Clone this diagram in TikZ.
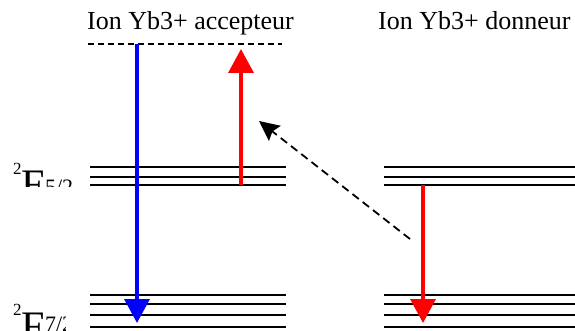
\documentclass[tikz,border=0pt]{standalone}
\usepackage{fontspec}
\setmainfont{Liberation Serif}
\usetikzlibrary{arrows.meta}
\begin{document}
\begin{tikzpicture}[x=1pt,y=-1pt,>={Triangle[width=25pt,length=24pt]},
            niveau/.style={line width=2pt,black},
            trans/.style={line width=3.5pt,->},
            titre/.style={anchor=base west,inner sep=0pt,font=\fontsize{26}{28}\selectfont}]
            \useasboundingbox (0,0) rectangle (575,331);
            \node[titre] (acc) at (87,30) {Ion Yb3+ accepteur};
            \node[titre] (don) at (378,30) {Ion Yb3+ donneur};
            % niveaux
            \foreach \y in {167,177,185} {
                \draw[niveau] (90,\y)--(286,\y);
                \draw[niveau] (384,\y)--(580,\y);
            }
            \foreach \y in {295,304,315,327} {
                \draw[niveau] (90,\y)--(286,\y);
                \draw[niveau] (384,\y)--(580,\y);
            }
            \draw[line width=1.3pt,dash pattern=on 6pt off 4pt] (88,44)--(282,44);
            \begin{scope}
                \clip (0,150) rectangle (82,187);
                \node[anchor=base west,inner sep=0pt] (f52) at (13,198)
                {{\fontsize{17}{17}\selectfont\raisebox{24pt}{2}}{\fontsize{42}{42}\selectfont F}{\fontsize{22}{22}\selectfont\raisebox{4pt}{5/2}}};
            \end{scope}
            \begin{scope}
                \clip (0,290) rectangle (65,331);
                \node[anchor=base west,inner sep=0pt] (f72) at (13,340)
                {{\fontsize{17}{17}\selectfont\raisebox{25pt}{2}}{\fontsize{42}{42}\selectfont F}{\fontsize{22}{22}\selectfont\raisebox{9pt}{7/2}}};
            \end{scope}
            % transitions
            \coordinate (bleuA) at (137,44);
            \coordinate (bleuB) at (137,323);
            \coordinate (abs1) at (241,185);
            \coordinate (abs2) at (241,49);
            \coordinate (em1) at (423,185);
            \coordinate (em2) at (423,323);
            \coordinate (src) at (410,239);
            \coordinate (dst) at (259,121);
            \draw[trans,blue] (bleuA)--(bleuB);
            \draw[trans,red] (abs1)--(abs2);
            \draw[trans,red] (em1)--(em2);
            \draw[line width=1.8pt,dash pattern=on 8pt off 5pt,-{Stealth[length=20pt,width=19pt,inset=3pt]}] (src)--(dst);
        \end{tikzpicture}
\end{document}
